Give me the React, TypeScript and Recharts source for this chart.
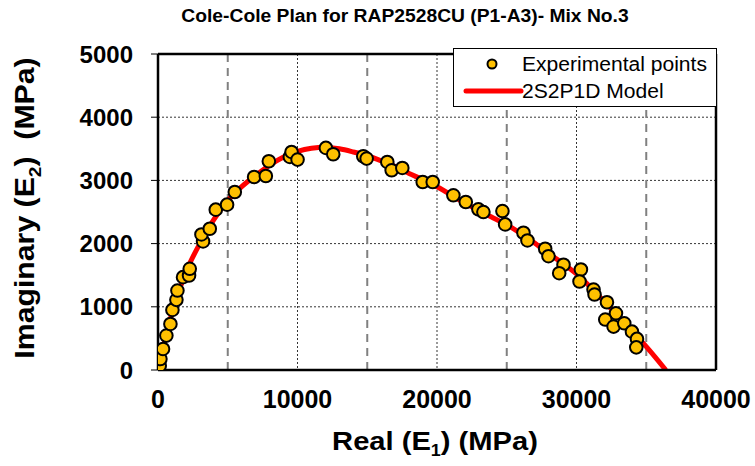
import React from "react";
import {
  ComposedChart,
  Line,
  Scatter,
  XAxis,
  YAxis,
  CartesianGrid,
  ReferenceLine,
} from "recharts";

const expReal = [
  122, 172, 360, 600, 890, 1033, 1320, 1392, 1794, 2225, 2275, 3230, 3115,
  3711, 4141, 4952, 5505, 6890, 7730, 7945, 9452, 9574, 10004, 12036, 12561,
  14714, 14957, 16438, 16750, 17513, 18975, 19693, 21173, 22063, 22967, 23326,
  24690, 24884, 26197, 26484, 27754, 27991, 29068, 28759, 30316, 30216, 31221,
  31293, 32183, 32829, 32061, 32656, 33424, 33976, 34335, 34285,
];
const expImag = [
  68, 174, 333, 544, 729, 951, 1110, 1257, 1469, 1495, 1601, 2034, 2145, 2235,
  2537, 2616, 2816, 3054, 3070, 3303, 3371, 3450, 3329, 3514, 3414, 3382, 3345,
  3292, 3160, 3197, 2975, 2975, 2764, 2658, 2542, 2499, 2515, 2304, 2172, 2050,
  1918, 1801, 1665, 1532, 1590, 1400, 1273, 1194, 1072, 897, 798, 687, 739, 607,
  492, 358,
];

// 2S2P1D model curve
const modelReal = [
  0, 200, 500, 1000, 1500, 2000, 3000, 4000, 5000, 6000, 7000, 8000, 9000,
  10000, 11000, 12000, 13000, 14000, 15000, 16000, 17000, 18000, 19000, 20000,
  22000, 24000, 25000, 26000, 27000, 28000, 29000, 30000, 31000, 32000, 33000,
  34000, 35000, 36400,
];
const modelImag = [
  0, 200, 480, 900, 1250, 1550, 2000, 2380, 2680, 2900, 3080, 3240, 3370, 3460,
  3510, 3525, 3500, 3450, 3390, 3310, 3220, 3110, 3010, 2900, 2640, 2410, 2300,
  2160, 2010, 1840, 1690, 1520, 1310, 1080, 850, 610, 370, 0,
];

const xTicks = [0, 10000, 20000, 30000, 40000];
const yTicks = [0, 1000, 2000, 3000, 4000, 5000];
const dashedX = [5000, 15000, 25000, 35000];

const expData = expReal.map((x, i) => ({ x, y: expImag[i] }));
const modelData = modelReal.map((x, i) => ({ x, y: modelImag[i] }));

const FONT = "Arial, 'Liberation Sans', sans-serif";

function Dot(props: any) {
  const { cx, cy } = props;
  if (cx == null || cy == null) return null;
  return (
    <circle cx={cx} cy={cy} r={6.3} fill="#FFC000" stroke="#000" strokeWidth={2} />
  );
}

export default function App() {
  return (
    <div
      style={{
        position: "absolute",
        left: 0,
        top: 0,
        width: 755,
        height: 466,
        background: "#fff",
        fontFamily: FONT,
      }}
    >
      <ComposedChart
        width={755}
        height={466}
        margin={{ top: 54, right: 39, left: 98, bottom: 66 }}
      >
        <CartesianGrid stroke="#000" strokeWidth={0.8} strokeDasharray="2 2" />
        <XAxis
          type="number"
          dataKey="x"
          domain={[0, 40000]}
          ticks={xTicks}
          allowDataOverflow
          height={30}
          tickLine={false}
          tickSize={6}
          tickMargin={14}
          axisLine={{ stroke: "#000", strokeWidth: 2.5 }}
          tick={{ fontSize: 25, fontWeight: "bold", fill: "#000", fontFamily: FONT }}
        />
        <YAxis
          type="number"
          dataKey="y"
          domain={[0, 5000]}
          ticks={yTicks}
          allowDataOverflow
          width={60}
          tickSize={7}
          tickMargin={18}
          tickLine={{ stroke: "#000", strokeWidth: 1 }}
          axisLine={{ stroke: "#000", strokeWidth: 2.5 }}
          tick={{ fontSize: 24, fontWeight: "bold", fill: "#000", fontFamily: FONT }}
        />
        {dashedX.map((v) => (
          <ReferenceLine
            key={v}
            x={v}
            stroke="#808080"
            strokeWidth={2}
            strokeDasharray="8 6"
          />
        ))}
        <ReferenceLine y={5000} stroke="#000" strokeWidth={2.5} />
        <ReferenceLine x={40000} stroke="#000" strokeWidth={2.5} />
        <Line
          data={modelData}
          dataKey="y"
          type="monotone"
          stroke="#FF0000"
          strokeWidth={5}
          dot={false}
          activeDot={false}
          isAnimationActive={false}
        />
        <Scatter data={expData} shape={<Dot />} isAnimationActive={false} />
      </ComposedChart>

      {/* title */}
      <div
        style={{
          position: "absolute",
          left: 405,
          top: 16,
          transform: "translate(-50%, -50%) scaleX(1.07)",
          whiteSpace: "nowrap",
          fontSize: 18,
          fontWeight: "bold",
          color: "#000",
        }}
      >
        Cole-Cole Plan for RAP2528CU (P1-A3)- Mix No.3
      </div>

      {/* y axis title */}
      <div
        style={{
          position: "absolute",
          left: 28,
          top: 208,
          transform: "translate(-50%, -50%) rotate(-90deg) scaleX(1.12)",
          whiteSpace: "nowrap",
          fontSize: 27,
          fontWeight: "bold",
          color: "#000",
        }}
      >
        Imaginary (E<sub style={{ fontSize: 17 }}>2</sub>)&nbsp;&nbsp;(MPa)
      </div>

      {/* x axis title */}
      <div
        style={{
          position: "absolute",
          left: 435,
          top: 443,
          transform: "translate(-50%, -50%) scaleX(1.12)",
          whiteSpace: "nowrap",
          fontSize: 26,
          fontWeight: "bold",
          color: "#000",
        }}
      >
        Real (E<sub style={{ fontSize: 16 }}>1</sub>) (MPa)
      </div>

      {/* legend */}
      <div
        style={{
          position: "absolute",
          left: 453,
          top: 48,
          width: 264,
          height: 59,
          boxSizing: "border-box",
          border: "1.5px solid #000",
          background: "#fff",
          fontSize: 19.5,
          color: "#000",
        }}
      >
        <svg
          width={70}
          height={59}
          style={{ position: "absolute", left: 0, top: 0 }}
        >
          <circle cx={38} cy={15} r={4.5} fill="#FFC000" stroke="#000" strokeWidth={2} />
          <line x1={12} y1={42} x2={67} y2={42} stroke="#FF0000" strokeWidth={5} strokeLinecap="round" />
        </svg>
        <div
          style={{
            position: "absolute",
            left: 68,
            top: 15,
            transform: "translateY(-50%) scaleX(1.08)",
            transformOrigin: "left center",
            whiteSpace: "nowrap",
            lineHeight: "22px",
          }}
        >
          Experimental points
        </div>
        <div
          style={{
            position: "absolute",
            left: 68,
            top: 42,
            transform: "translateY(-50%) scaleX(1.08)",
            transformOrigin: "left center",
            whiteSpace: "nowrap",
            lineHeight: "22px",
          }}
        >
          2S2P1D Model
        </div>
      </div>
    </div>
  );
}
